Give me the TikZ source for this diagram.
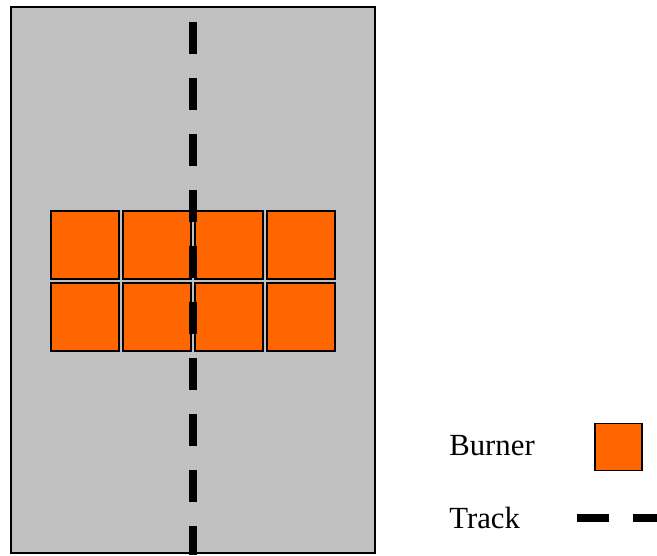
\documentclass[tikz,border=0pt]{standalone}
\usepackage{fontspec}
\setmainfont{Liberation Serif}
\usepackage{tikz}

\definecolor{furnace}{HTML}{C0C0C0}
\definecolor{flame}{HTML}{FF6600}

\tikzset{
    burner/.style={draw=black, fill=flame, line width=1pt, minimum size=1.37cm, inner sep=0pt},
    key/.style={draw=black, fill=flame, line width=1pt, minimum size=0.94cm, inner sep=0pt},
    track/.style={line width=0.16cm, dash pattern=on 0.64cm off 0.48cm},
    label/.style={anchor=base west, inner sep=0pt, font=\fontsize{17.5}{20}\selectfont}
}

\begin{document}
\begin{tikzpicture}
        \useasboundingbox (0,0) rectangle (13.14,11.1);

        \draw[fill=furnace, line width=0.9pt] (0.22,0.04) rectangle (7.5,10.96);

        \node[burner] (b11) at (1.70,6.20) {};
        \node[burner] (b12) at (3.14,6.20) {};
        \node[burner] (b13) at (4.58,6.20) {};
        \node[burner] (b14) at (6.02,6.20) {};

        \node[burner] (b21) at (1.70,4.76) {};
        \node[burner] (b22) at (3.14,4.76) {};
        \node[burner] (b23) at (4.58,4.76) {};
        \node[burner] (b24) at (6.02,4.76) {};

        \coordinate (trackTop) at (3.86,10.66);
        \coordinate (trackEnd) at (3.86,0);
        \draw[track] (trackTop) -- (trackEnd);

        \node[label] (burnerText) at (8.98,2.0) {Burner};
        \node[key] (burnerKey) at (12.37,2.16) {};

        \node[label] (trackText) at (8.98,0.54) {Track};
        \coordinate (keyStart) at (11.54,0.74);
        \coordinate (keyEnd) at (13.14,0.74);
        \draw[track] (keyStart) -- (keyEnd);
\end{tikzpicture}
\end{document}
